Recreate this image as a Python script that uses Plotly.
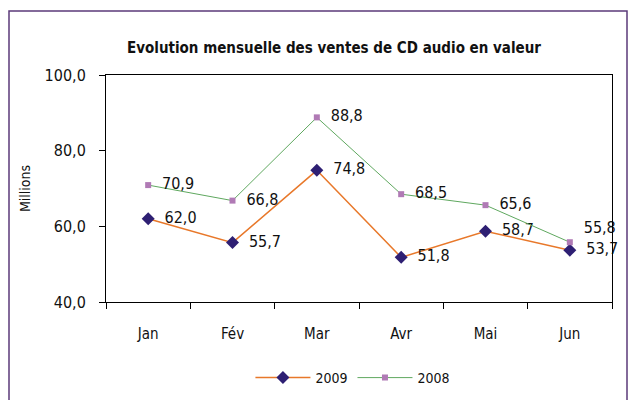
import plotly.graph_objects as go

months = ["Jan", "Fév", "Mar", "Avr", "Mai", "Jun"]
sales_2009 = [62.0, 55.7, 74.8, 51.8, 58.7, 53.7]
sales_2008 = [70.9, 66.8, 88.8, 68.5, 65.6, 55.8]
y_ticks = [40, 60, 80, 100]

FONT = "DejaVu Sans Condensed, Liberation Sans Narrow, sans-serif"

def lbl(vals):
    return ["  " + f"{v:.1f}".replace(".", ",") for v in vals]

fig = go.Figure()
fig.add_trace(go.Scatter(
    x=months, y=sales_2009, name="2009", mode="lines+markers+text",
    line=dict(color="#E8782A", width=1.5),
    marker=dict(symbol="diamond", size=10, color="#2E1F73"),
    text=lbl(sales_2009), textposition="middle right", cliponaxis=False,
    textfont=dict(family=FONT, size=16, color="#111111"),
))
fig.add_trace(go.Scatter(
    x=months, y=sales_2008, name="2008", mode="lines+markers+text",
    line=dict(color="#5FA85F", width=1),
    marker=dict(symbol="square", size=6, color="#B07AB5"),
    text=lbl(sales_2008), cliponaxis=False,
    textposition=["middle right"] * 5 + ["top right"],
    textfont=dict(family=FONT, size=16, color="#111111"),
))

fig.update_layout(
    width=635, height=400,
    margin=dict(l=106, r=23, t=75, b=98, autoexpand=False),
    paper_bgcolor="white", plot_bgcolor="white",
    separators=", ",
    font=dict(family=FONT, size=14, color="#111111"),
    title=dict(text="<b>Evolution mensuelle des ventes de CD audio en valeur</b>",
               x=0.526, xanchor="center", y=0.88, yanchor="middle",
               font=dict(family=FONT, size=15, color="#111111")),
    showlegend=True,
    legend=dict(orientation="h", x=0.488, xanchor="center",
                yref="container", y=0.055, yanchor="middle",
                itemwidth=55,
                font=dict(family=FONT, size=14, color="#111111")),
    xaxis=dict(type="category", showline=True, linecolor="black", linewidth=1,
               mirror=True, ticks="outside", tickson="boundaries", ticklen=6,
               tickcolor="black", showgrid=False, range=[-0.5, 5.5],
               ticklabelstandoff=18, automargin=False,
               tickfont=dict(family=FONT, size=15)),
    yaxis=dict(range=[40, 100], tickvals=y_ticks, tickformat=".1f",
               showline=True, linecolor="black", linewidth=1, mirror=True,
               ticks="outside", ticklen=6, tickcolor="black", showgrid=False,
               zeroline=False, tickfont=dict(family=FONT, size=16),
               ticklabelstandoff=10, automargin=False,
               title=dict(text="Millions", font=dict(family=FONT, size=14), standoff=10)),
    shapes=[dict(type="rect", xref="paper", yref="paper",
                 x0=(9 - 106) / 506, x1=(627 - 106) / 506,
                 y0=(302 - 412) / 227, y1=(302 - 11) / 227,
                 line=dict(color="#5B3A7A", width=1.5), layer="below")],
)

fig.write_html("out.html", config={"displayModeBar": False},
               post_script="document.body.style.margin='0';document.body.style.overflow='hidden';")
